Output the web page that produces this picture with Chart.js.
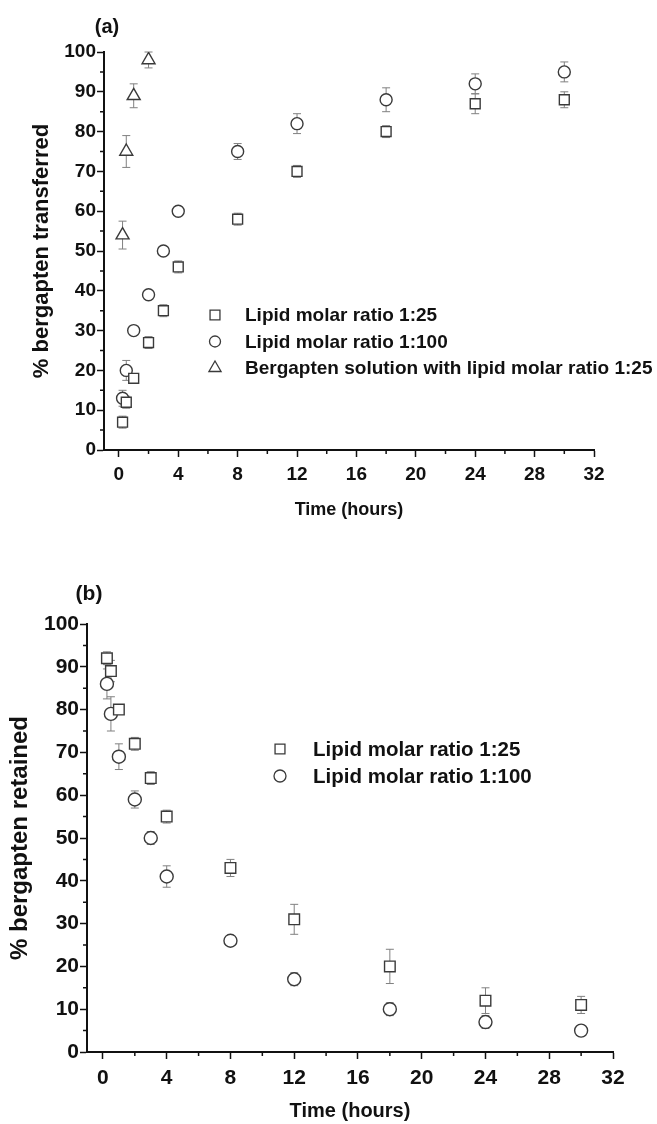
<!DOCTYPE html>
<html>
<head>
<meta charset="utf-8">
<script src="https://cdn.jsdelivr.net/npm/chart.js@4.4.0/dist/chart.umd.min.js"></script>
<style>
body{margin:0;background:#fff;}
canvas{display:block;}
</style>
</head>
<body>
<canvas id="chartA" width="657" height="560"></canvas>
<canvas id="chartB" width="657" height="564"></canvas>
<script>
// time points (hours)
var times = [0.25, 0.5, 1, 2, 3, 4, 8, 12, 18, 24, 30];
var timesSol = [0.25, 0.5, 1, 2];

// (a) % bergapten transferred
var trans25 = [7, 12, 18, 27, 35, 46, 58, 70, 80, 87, 88];
var trans25Err = [1.5, 1.5, 1, 1.5, 1.5, 1.5, 1.5, 1.5, 1.5, 2.5, 2];
var trans100 = [13, 20, 30, 39, 50, 60, 75, 82, 88, 92, 95];
var trans100Err = [2, 2.5, 1, 1, 1, 1, 2, 2.5, 3, 2.5, 2.5];
var transSol = [54, 75, 89, 98];
var transSolErr = [3.5, 4, 3, 2];

// (b) % bergapten retained
var ret25 = [92, 89, 80, 72, 64, 55, 43, 31, 20, 12, 11];
var ret25Err = [1.5, 2.5, 1, 1.5, 1.5, 1.5, 2, 3.5, 4, 3, 2];
var ret100 = [86, 79, 69, 59, 50, 41, 26, 17, 10, 7, 5];
var ret100Err = [3.5, 4, 3, 2, 1.5, 2.5, 1, 1.5, 1.5, 1.5, 1];

// axis ticks
var xMajor = [0, 4, 8, 12, 16, 20, 24, 28, 32];
var xMinor = [2, 6, 10, 14, 18, 22, 26, 30];
var yMajor = [0, 10, 20, 30, 40, 50, 60, 70, 80, 90, 100];
var yMinor = [5, 15, 25, 35, 45, 55, 65, 75, 85, 95];

var label25 = 'Lipid molar ratio 1:25';
var label100 = 'Lipid molar ratio 1:100';
var labelSol = 'Bergapten solution with lipid molar ratio 1:25';

var FONT = "'Liberation Sans', Arial, sans-serif";
var INK = '#111';
var MARK = '#3a3a3a';

Chart.defaults.font.family = FONT;
Chart.defaults.font.weight = 'bold';
Chart.defaults.color = INK;

function pts(xs, ys) {
    return xs.map(function (x, i) { return { x: x, y: ys[i] }; });
}

function ds(label, xs, ys, errs, style, r) {
    return {
        label: label,
        data: pts(xs, ys),
        errors: errs,
        pointStyle: style,
        pointRadius: r,
        pointBorderWidth: 1.4,
        pointBorderColor: MARK,
        pointBackgroundColor: '#fff',
        showLine: false
    };
}

function extras(p) {
    return {
        id: 'extras',
        beforeDatasetsDraw: function (chart) {
            var ctx = chart.ctx, xs = chart.scales.x, ys = chart.scales.y;
            ctx.save();
            ctx.strokeStyle = '#808080';
            ctx.lineWidth = 1;
            chart.data.datasets.forEach(function (d) {
                d.data.forEach(function (pt, i) {
                    var e = d.errors[i];
                    var x = xs.getPixelForValue(pt.x);
                    var y1 = ys.getPixelForValue(pt.y + e);
                    var y2 = ys.getPixelForValue(pt.y - e);
                    ctx.beginPath();
                    ctx.moveTo(x, y1); ctx.lineTo(x, y2);
                    ctx.moveTo(x - 4, y1); ctx.lineTo(x + 4, y1);
                    ctx.moveTo(x - 4, y2); ctx.lineTo(x + 4, y2);
                    ctx.stroke();
                });
            });
            ctx.restore();
        },
        afterDraw: function (chart) {
            var ctx = chart.ctx, xs = chart.scales.x, ys = chart.scales.y, a = chart.chartArea;
            ctx.save();
            // minor ticks
            ctx.strokeStyle = INK;
            ctx.lineWidth = 1.5;
            ctx.beginPath();
            xMinor.forEach(function (v) {
                var x = xs.getPixelForValue(v);
                ctx.moveTo(x, a.bottom); ctx.lineTo(x, a.bottom + 4);
            });
            yMinor.forEach(function (v) {
                var y = ys.getPixelForValue(v);
                ctx.moveTo(a.left, y); ctx.lineTo(a.left - 4, y);
            });
            ctx.stroke();
            // panel letter
            ctx.fillStyle = INK;
            ctx.font = 'bold ' + p.panelSize + 'px ' + FONT;
            ctx.textBaseline = 'middle';
            ctx.textAlign = 'center';
            ctx.fillText(p.panel, p.panelX, p.panelY);
            // legend
            ctx.textAlign = 'left';
            ctx.font = 'bold ' + p.legendSize + 'px ' + FONT;
            chart.data.datasets.forEach(function (d, i) {
                var y = p.legendY + i * p.legendGap;
                ctx.fillStyle = '#fff';
                ctx.strokeStyle = MARK;
                ctx.lineWidth = 1.3;
                Chart.helpers.drawPoint(ctx, {
                    pointStyle: d.pointStyle,
                    radius: p.legendR[d.pointStyle],
                    borderWidth: 1.3,
                    rotation: 0
                }, p.legendX, y);
                ctx.fillStyle = INK;
                ctx.fillText(d.label, p.textX, y + 1);
            });
            ctx.restore();
        }
    };
}

function makeChart(id, datasets, yTitle, g) {
    return new Chart(document.getElementById(id), {
        type: 'scatter',
        data: { datasets: datasets },
        options: {
            responsive: false,
            animation: false,
            layout: { padding: { left: g.padLeft, right: g.padRight, top: g.padTop, bottom: g.padBottom } },
            plugins: { legend: { display: false }, tooltip: { enabled: false } },
            scales: {
                x: {
                    type: 'linear',
                    min: -1,
                    max: 32,
                    afterBuildTicks: function (s) { s.ticks = xMajor.map(function (v) { return { value: v }; }); },
                    afterFit: function (s) { s.height = g.xHeight; },
                    ticks: { font: { size: g.tickSize, weight: 'bold' }, color: INK, padding: g.xPad, maxRotation: 0, autoSkip: false },
                    grid: { display: true, drawOnChartArea: false, drawTicks: true, tickLength: 7, tickWidth: 1.5, tickColor: INK },
                    border: { display: true, color: INK, width: 2 },
                    title: { display: true, text: 'Time (hours)', font: { size: g.titleSize, weight: 'bold' }, color: INK, padding: 0 }
                },
                y: {
                    type: 'linear',
                    min: 0,
                    max: 100,
                    afterBuildTicks: function (s) { s.ticks = yMajor.map(function (v) { return { value: v }; }); },
                    afterFit: function (s) { s.width = g.yWidth; },
                    ticks: { font: { size: g.tickSize, weight: 'bold' }, color: INK, padding: 1 },
                    grid: { display: true, drawOnChartArea: false, drawTicks: true, tickLength: 7, tickWidth: 1.5, tickColor: INK },
                    border: { display: true, color: INK, width: 2 },
                    title: { display: true, text: yTitle, font: { size: g.yTitleSize, weight: 'bold' }, color: INK, padding: 0 }
                }
            }
        },
        plugins: [extras(g)]
    });
}

makeChart('chartA', [
    ds(label25, times, trans25, trans25Err, 'rect', 7),
    ds(label100, times, trans100, trans100Err, 'circle', 6),
    ds(labelSol, timesSol, transSol, transSolErr, 'triangle', 7.5)
], '% bergapten transferred', {
    padLeft: 29, padRight: 63, padTop: 52, padBottom: 39,
    xHeight: 71, yWidth: 75, tickSize: 19, titleSize: 18, yTitleSize: 22, xPad: 6,
    panel: '(a)', panelSize: 20, panelX: 107, panelY: 27,
    legendX: 215, textX: 245, legendY: 315, legendGap: 26.5, legendSize: 19,
    legendR: { rect: 7, circle: 5.5, triangle: 7 }
});

makeChart('chartB', [
    ds(label25, times, ret25, ret25Err, 'rect', 7.5),
    ds(label100, times, ret100, ret100Err, 'circle', 6.5)
], '% bergapten retained', {
    padLeft: 6, padRight: 44, padTop: 64, padBottom: 1,
    xHeight: 71, yWidth: 81, tickSize: 21, titleSize: 20, yTitleSize: 24, xPad: 7,
    panel: '(b)', panelSize: 21, panelX: 89, panelY: 34,
    legendX: 280, textX: 313, legendY: 189, legendGap: 27, legendSize: 20.5,
    legendR: { rect: 7, circle: 6 }
});
</script>
</body>
</html>
